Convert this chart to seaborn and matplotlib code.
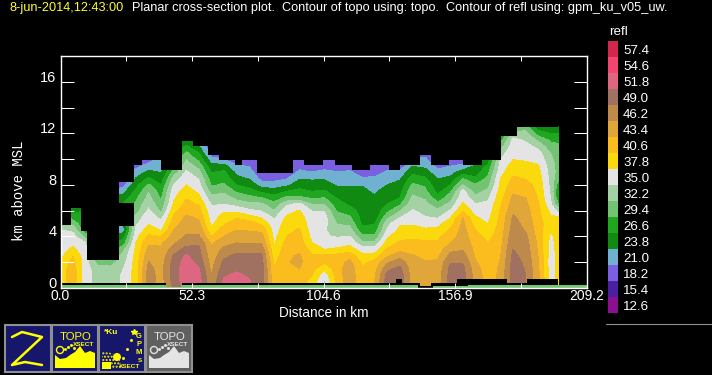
"""
Planar cross-section of reflectivity (km above MSL against distance), dark
display style. Band values read off the picture, one profile per distance.
"""
import numpy as np
import seaborn as sns
import matplotlib
matplotlib.use('Agg')
import matplotlib.pyplot as plt
from matplotlib.colors import ListedColormap, BoundaryNorm
from matplotlib.lines import Line2D
from matplotlib.patches import Polygon, Circle

W, H = 712, 375

level_values = [12.6, 15.4, 18.2, 21.0, 23.8, 26.6, 29.4, 32.2, 35.0,
                37.8, 40.6, 43.4, 46.2, 49.0, 51.8, 54.6, 57.4]
level_colors = ['#8a1090', '#4b1fa0', '#7a60e0', '#70b0d0', '#108a10', '#1fa81f',
                '#72c472', '#a5d2a5', '#e4e4e4', '#fad90d', '#fbbc1e', '#e0a63a',
                '#bd8a4b', '#a07060', '#dd6680', '#f2456f', '#d0274b']

distance_km = [0, 5, 10, 15, 20, 25, 30, 35, 40, 45, 50, 55, 60, 65, 70, 75, 80, 85,
               90, 95, 100, 105, 110, 115, 120, 125, 130, 135, 140, 145, 150, 155,
               160, 165, 170, 175, 180, 185, 190, 195, 198]
height_km = [0, .5, 1, 1.5, 2, 2.5, 3, 3.5, 4, 4.5, 5, 5.5, 6, 6.5, 7, 7.5, 8, 8.5,
             9, 9.5, 10, 10.5, 11, 11.5, 12, 12.5]

# one profile per distance, bottom up every 0.5 km
refl_profiles = [
    [39, 39, 39.5, 39, 38.5, 37, 36.5, 36, 35.5, 35, 34],
    [41, 42, 42, 42, 41.5, 40.5, 38.5, 36.8, 36, 34.5, 31, 28, 25],
    [36, 36, 36, 36, 36, 36, 35.5, 35, 31, 27],
    [34, 34, 34, 33.5, 31, 30],
    [33, 33, 33, 33, 31, 30, 28, 26, 24, 21, 20, 20, 24, 26, 24, 21, 19, 18.5],
    [35.5, 35.5, 35.5, 35, 34, 33, 31.5, 28, 25.5, 22.5, 24, 26, 27, 27, 25, 23, 20, 18.5],
    [39, 39, 39, 39, 39, 38.8, 38.4, 37.8, 36.8, 35.8, 34.5, 33.2, 31, 29.9, 28.8, 27.2,
     25.8, 24, 22, 20, 19],
    [47, 47.5, 47.5, 47, 46.3, 45.3, 44, 43, 41.2, 39, 37.6, 36.8, 35.4, 34.5, 33, 32,
     29.8, 27, 24.5, 22, 19.5],
    [44.5, 45, 45, 45, 45, 44.5, 43.8, 43, 40.6, 37.6, 36, 34, 31.5, 30, 29, 28, 26.6,
     25, 23.5, 22],
    [49.5, 50, 50.5, 50.5, 50, 49.3, 47.5, 45.8, 44.5, 43.4, 42.2, 41, 39.6, 38.2, 37.3,
     36.5, 35, 33.2, 30.5, 28, 26, 25, 24],
    [53, 53.5, 53.5, 53.5, 53, 52.2, 50, 48, 46.5, 45.5, 44.7, 43.8, 42.5, 41.5, 40.4,
     39.2, 37.8, 36.8, 35.4, 33.6, 32, 29.8, 27, 24],
    [52.5, 53, 52.8, 52, 50.9, 50.2, 49.5, 48.6, 46.6, 45.5, 44, 43, 41.8, 40.4, 38.5,
     37.2, 36, 34.8, 33, 31, 28.5, 26.6, 24],
    [47, 46.8, 46.2, 45.5, 45, 44.5, 43.8, 43, 40.6, 38.5, 37.2, 36.5, 35.7, 34.8, 33.2,
     31, 29, 28, 26.3, 24.5, 22, 19],
    [52, 52.3, 51.5, 50.7, 49.7, 48.2, 47, 45, 43.4, 42, 40.2, 38.8, 37.5, 35, 33.8,
     31.5, 29.8, 28.4, 27.2, 24.5, 21, 19],
    [53, 52.8, 52.2, 51.4, 50.6, 49.8, 47.5, 46.2, 45, 43.4, 42, 40.2, 37, 34, 31.2, 29,
     26.6, 24.5, 23, 21.2, 19],
    [52.3, 52, 51.5, 51, 50.5, 49.8, 47.7, 46, 44.8, 43.1, 42, 38.9, 35.5, 33, 30.2,
     27.8, 25.5, 23.6, 22.3, 20.7, 19],
    [50, 50.5, 50.5, 50.3, 50, 49.5, 48, 46, 44.4, 42.8, 40, 37.4, 34.8, 32.8, 29.4, 26,
     22.5, 20, 18.5],
    [41, 41, 41, 40.8, 40, 39, 38.2, 37.5, 37, 36.5, 36, 34.5, 32.2, 30.3, 28, 25, 22.3,
     20, 18.5],
    [42, 42, 42.2, 43, 43.2, 43, 42.5, 41.5, 40.6, 39.6, 39, 38.2, 36.8, 34.4, 30, 26.6,
     23.2, 20.8, 19],
    [41.5, 42, 43, 43.4, 44, 43.7, 42.8, 42, 41.5, 41, 39.5, 39, 38, 36, 30, 27.5, 25.2,
     23.5, 21.5, 20, 18.7],
    [39, 39.5, 40.8, 41.5, 41.5, 41, 39.5, 37.9, 37, 36.5, 36.4, 36, 34.8, 32, 29, 26.6,
     25, 23.4, 21, 18.5, 18],
    [34, 34.5, 36, 38.5, 41, 41, 37.8, 36, 35.2, 35.2, 36, 36, 34.8, 32, 29.4, 27, 25,
     23.5, 21.5, 20, 18.5],
    [41, 41.5, 42, 42, 42, 41.5, 38.2, 36.5, 34.8, 33.5, 32, 30.7, 29.1, 27.7, 26.4,
     24.6, 23.5, 22.5, 21.1, 19, 18],
    [45, 45, 45, 45, 44.2, 42.5, 39, 37, 35, 33.5, 31.5, 29.7, 28, 26.2, 25.4, 24.6,
     23.6, 23, 21.5, 19],
    [41.5, 41.5, 41.3, 40.9, 40, 38.5, 36.5, 33, 30, 27.5, 26, 25.6, 25.3, 25, 24.5,
     24.2, 23.7, 21.5, 19, 18.5],
    [43.5, 43.5, 43, 42.5, 41.5, 39, 36.2, 33, 30, 28, 26.5, 25, 24.5, 24.2, 24, 23.5,
     22.8, 21.5, 19.5, 18.5],
    [50, 50.5, 50, 48.3, 45.8, 43, 41, 39, 37.3, 35.3, 34, 31.3, 28.7, 26.6, 25.6, 24.8,
     23.8, 22.8, 21.5, 19],
    [50, 50.5, 50.5, 49.7, 48, 45, 42.5, 41.2, 39.5, 38.5, 37.5, 34.8, 32, 29, 26.6,
     25.6, 24.6, 23.5, 21.5, 19],
    [45, 45, 44.8, 44.5, 44, 43.6, 42.5, 41.2, 40.2, 38.8, 37.5, 36.8, 35.2, 34, 32.8,
     31.5, 29.8, 28, 25.8, 23.5, 21],
    [45, 45, 44.8, 44.3, 43.7, 42.5, 41.4, 41, 39.8, 38.2, 36.8, 35.2, 34, 33, 31.8,
     30.2, 29, 27, 25, 23, 21.5, 20],
    [45, 44.8, 44.5, 44.2, 43.8, 42.8, 41.7, 41, 40, 38.5, 37, 34.6, 32.7, 30.5, 27.5,
     25.5, 24.5, 23.7, 21.8, 20, 18.5],
    [50, 50, 50, 49.8, 48.8, 47, 45.5, 43.3, 42, 41, 39.3, 37.5, 35.2, 33, 30.8, 29,
     26.6, 24.3, 22.8, 20.8, 19],
    [50, 50, 50, 49.8, 48.8, 47.5, 45.9, 45.3, 44.8, 44.4, 44, 43.4, 40.2, 38.2, 37, 36,
     32.2, 29.4, 25, 21.5, 19],
    [45, 45, 45, 44.5, 43.7, 43, 42.7, 42, 41.5, 40.7, 39.5, 38, 36.5, 35, 33, 31, 29.7,
     27, 25.5, 24, 21],
    [42, 42, 42, 41.8, 41.6, 41.4, 41, 40.6, 39.7, 38.8, 37.8, 37, 36.3, 35.6, 34.5, 33,
     31.2, 30, 28.5, 27, 25, 24],
    [44, 44, 44, 43.9, 43.6, 43.3, 43, 42.5, 42.2, 41.8, 41.5, 41.2, 40.8, 40.3, 39.6,
     39, 38.4, 37.8, 36.8, 36, 35, 33.5, 31, 28, 26, 25],
    [50.5, 50.5, 50.5, 50.3, 50, 49.7, 49, 48.5, 48, 47.5, 47, 46.6, 45.5, 44.7, 43.9,
     43, 42, 41, 39.9, 38.9, 37.7, 37, 36.4, 35.8, 33, 30],
    [49, 49, 49, 48.8, 48.5, 48, 47.8, 47.3, 46.8, 46, 45.5, 45, 44.5, 44, 43.4, 42.5,
     41.6, 40.4, 39.4, 38.4, 37.5, 36.8, 36, 34.5, 33, 31],
    [44, 44, 44, 43.8, 43.5, 43.3, 43, 42.7, 42.4, 42, 41.7, 41.4, 41.2, 40.8, 40.4, 40,
     39.7, 39.2, 38.6, 38, 36.9, 36, 34, 31.5, 28, 25],
    [37, 36.8, 36.5, 36.2, 36, 36.3, 36.6, 36.8, 37.2, 38, 39, 38.2, 37, 35.5, 34.8,
     34.5, 34.2, 34, 33.8, 33.5, 32.8, 32, 30.5, 28.8, 26.5, 24],
    [38.5, 38.5, 38.5, 38.6, 38.7, 38.8, 38.8, 38.9, 39, 39, 39, 38, 34, 29.5, 27, 26.5,
     28, 30, 31, 31, 30.8, 30.6, 30, 28.5, 26.5, 25],
]

# stepped top of the echo, km
echo_edges = [0, 4.2, 8.1, 10.4, 23.2, 29.4, 32.3, 40, 48.2, 52.8, 58.8, 63, 69.4, 72, 78,
              92.6, 96.8, 104.5, 109, 115.8, 123, 130.8, 135, 143, 147.5, 154.5, 160,
              167.5, 175, 181.4, 198]
echo_tops = [4.9, 6.2, 4.4, 2.2, 8.2, 9.56, 9.9, 9.17, 11.4, 11, 10.3, 9.9, 9.56, 9.9, 8.9,
             9.95, 9.56, 9.95, 9.56, 9.17, 9.56, 9.17, 9.56, 10.3, 9.56, 9.9, 9.56, 9.95,
             11.8, 12.5, 12.5]
# the hole in the echo near 25 km
gap_edges = [23.2, 29.4]
gap_low = [4.8, 4.8]
gap_high = [6.6, 6.6]

# black terrain contour and the green topo strip under it
ground_edges = [0, 42, 48.2, 133.5, 136, 139, 143, 147.5, 157.5, 177.5, 185.5, 198, 209.2]
ground_tops = [.36, .05, .39, .7, .39, .39, .15, .39, .7, .39, .7, 0, 0]
topo_edges = [0, 42, 48, 64, 78, 142, 148, 162, 173, 209.2]
topo_tops = [.2, .08, .2, .25, .2, 0, .18, .25, .2, .2]

x_ticks = [0.0, 26.15, 52.3, 78.45, 104.6, 130.75, 156.9, 183.05, 209.2]
x_labels = ['0.0', '', '52.3', '', '104.6', '', '156.9', '', '209.2']
y_ticks = [0, 2, 4, 6, 8, 10, 12, 14, 16]
y_labels = ['0', '', '4', '', '8', '', '12', '', '16']

sns.set_theme(style='dark', rc={'figure.facecolor': 'black', 'axes.facecolor': 'black',
                                'savefig.facecolor': 'black', 'text.color': 'white',
                                'axes.edgecolor': 'white', 'xtick.color': 'white',
                                'ytick.color': 'white', 'axes.labelcolor': 'white'})
plt.rcParams['font.family'] = ['Liberation Sans', 'DejaVu Sans']


def px_axes(x0, y0, x1, y1):
    return fig.add_axes([x0 / W, 1 - y1 / H, (x1 - x0) / W, (y1 - y0) / H])


fig = plt.figure(figsize=(W / 100, H / 100), dpi=100)
ax = px_axes(60.5, 56, 586.5, 288)

grid = np.array([np.pad(p, (0, len(height_km) - len(p)), mode='edge') for p in refl_profiles]).T
bounds = level_values + [60.2]
cmap = ListedColormap(level_colors)
norm = BoundaryNorm(bounds, cmap.N)
ax.contourf(distance_km, height_km, grid, levels=bounds, cmap=cmap, norm=norm, antialiased=False)

# cut the field back to the echo outline
ax.fill_between(echo_edges, echo_tops, 18, step='post', color='black', lw=0)
ax.fill_between(gap_edges, gap_low, gap_high, color='black', lw=0)
ax.fill_between(ground_edges, 0, ground_tops, step='post', color='black', lw=0)
ax.fill_between(topo_edges, 0, topo_tops, step='post', color='#72c472', lw=0)

ax.set_xlim(0, 209.2)
ax.set_ylim(0, 18)
ax.set_axisbelow(False)
ax.set_xticks(x_ticks, x_labels)
ax.set_yticks(y_ticks, y_labels)
ax.tick_params(axis='x', direction='in', bottom=True, top=True, length=3.6, width=0.75,
               labelsize=10, pad=1)
ax.tick_params(axis='y', direction='in', left=True, right=True, length=9.4, width=0.75,
               labelsize=10.5, pad=3)
for t in ax.get_yticklabels():
    t.set_va('baseline')
for s in ax.spines.values():
    s.set_color('white')
    s.set_linewidth(1)
ax.grid(False)
ax.set_xlabel('Distance in km', fontsize=9.8, labelpad=2)
fig.text(19 / W, 1 - 191 / H, 'km above MSL', rotation=90, ha='center', va='center',
         fontsize=10, family='Liberation Mono', color='white')

fig.text(10 / W, 1 - 8.5 / H, '8-jun-2014,12:43:00', color='#ffff30', fontsize=9.2, va='center')
fig.text(132 / W, 1 - 8.5 / H,
         'Planar cross-section plot.  Contour of topo using: topo.  '
         'Contour of refl using: gpm_ku_v05_uw.',
         color='white', fontsize=9.2, va='center')

# colour key
cax = px_axes(608, 41, 618, 313)
sns.heatmap(np.array(level_values[::-1]).reshape(-1, 1), ax=cax, cmap=cmap, vmin=11.2, vmax=58.8,
            cbar=False, xticklabels=False,
            yticklabels=[f'{v:.1f}' for v in level_values[::-1]])
cax.yaxis.tick_right()
cax.tick_params(axis='y', length=0, labelsize=9.6, pad=3.6, labelrotation=0, colors='white')
fig.text(609 / W, 1 - 32 / H, 'refl', color='white', fontsize=9.6, va='center')
fig.add_artist(Line2D([606 / W, 1], [1 - 324 / H, 1 - 324 / H], color='#909090', lw=0.8))


# the four little buttons under the plot
def button(x0, face='#16166a', ink='#ffff00', edge='#909090'):
    a = px_axes(x0, 325, x0 + 46, 372)
    a.set_xlim(0, 46)
    a.set_ylim(47, 0)
    a.set_xticks([])
    a.set_yticks([])
    a.set_facecolor(face)
    for s in a.spines.values():
        s.set_color(edge)
        s.set_linewidth(1.5)
    return a, ink


def topo_button(a, ink):
    a.text(24, 12, 'TOPO', color=ink, fontsize=8.2, ha='center', va='center')
    a.text(32, 19.5, 'XSECT', color=ink, fontsize=4.6, ha='center', va='center', fontweight='bold')
    ridge = [(3, 43), (3, 30), (8, 34), (14, 33), (18, 30), (23, 27), (28, 21), (33, 28),
             (38, 26), (43, 28), (43, 43)]
    a.add_patch(Polygon(ridge, color=ink, lw=0))
    a.add_patch(Circle((8, 25), 3.5, fill=False, ec=ink, lw=1))
    a.plot([13, 16, 19, 22], [24, 22, 20, 23], ls='', marker='s', ms=1, color=ink)


a, ink = button(5)
a.plot([7, 17, 37, 7, 20, 37], [12, 7, 12, 40, 37, 40], color=ink, lw=1.8)

a, ink = button(52)
topo_button(a, ink)

a, ink = button(99)
a.text(12, 8, '*Ku', color=ink, fontsize=6, ha='center', va='center', fontweight='bold')
for k, ch in enumerate('GPM'):
    a.text(40, 11 + 8 * k, ch, color=ink, fontsize=5.5, ha='center', va='center', fontweight='bold')
a.text(41, 35, 'S', color=ink, fontsize=4.5, ha='center', va='center', fontweight='bold')
a.text(31, 41, 'XSECT', color=ink, fontsize=4.6, ha='center', va='center', fontweight='bold')
a.add_patch(Polygon([(3, 44), (3, 26), (12, 28), (20, 33), (24, 44)], fc='#16166a', ec=ink,
                    hatch='.....', lw=0))
a.add_patch(Circle((18, 32), 4, color=ink, lw=0))
a.add_patch(Polygon([(3, 44), (3, 37), (12, 37), (12, 44)], color=ink, lw=0))
a.plot([24, 28, 32, 35], [33, 24, 15, 7], ls='', marker='s', ms=1, color=ink)
a.plot([35], [7], marker='*', ms=4, color=ink)

a, ink = button(146, face='#606060', ink='#e4e4e4', edge='#909090')
topo_button(a, ink)

plt.savefig('out.png', dpi=100, facecolor='black')
